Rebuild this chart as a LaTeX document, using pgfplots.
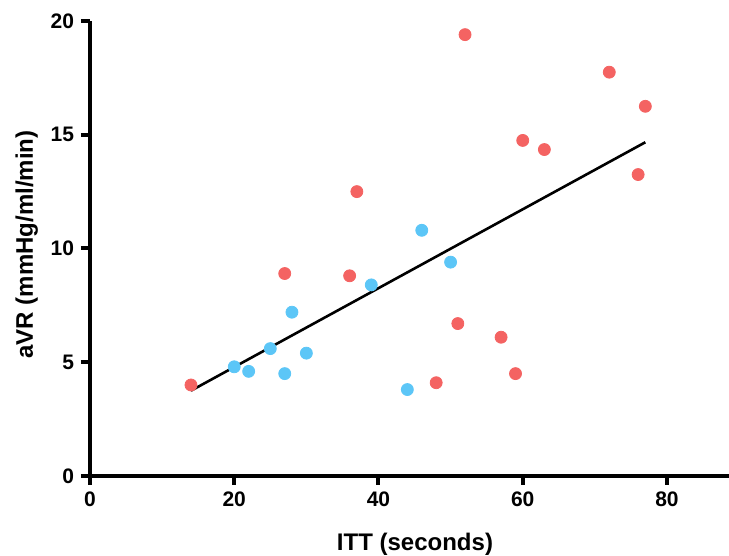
\documentclass[border=0pt]{standalone}
\usepackage{fontspec}
\setmainfont{Liberation Sans}
\usepackage{pgfplots}
\pgfplotsset{compat=1.18}
\definecolor{ptred}{RGB}{244,99,98}
\definecolor{ptblue}{RGB}{92,198,247}
\begin{document}
\begin{tikzpicture}
\path[use as bounding box] (-45pt,-40pt) rectangle (319.5pt,238pt);
\begin{axis}[
  at={(0pt,0pt)}, anchor=south west,
  scale only axis, width=319.5pt, height=227.5pt,
  xmin=0, xmax=88.6, ymin=0, ymax=20,
  axis x line*=bottom, axis y line*=left,
  x axis line style={-}, y axis line style={-},
  axis line style={line width=2pt, black},
  major tick style={line width=2pt, black},
  major tick length=4.5pt, tick align=outside,
  xtick={0,20,40,60,80}, ytick={0,5,10,15,20},
  tick label style={font=\fontsize{10.5}{12}\selectfont\bfseries},
  /pgf/number format/assume math mode=true,
  clip=false,
  xlabel={ITT (seconds)},
  ylabel={aVR (mmHg/ml/min)},
  xlabel style={font=\fontsize{12}{14}\selectfont\bfseries, at={(axis description cs:0.5086,0)}, anchor=base, yshift=-37.5pt},
  ylabel style={font=\fontsize{12}{14}\selectfont\bfseries, at={(axis description cs:0,0.509)}, anchor=base, yshift=28.5pt},
]
\addplot[only marks, mark=*, color=ptred, mark size=3pt] coordinates {
(14,4.0) (27,8.9) (36,8.8) (37,12.5) (48,4.1) (51,6.7) (52,19.4) (57,6.1)
(59,4.5) (60,14.75) (63,14.35) (72,17.75) (76,13.25) (77,16.25)
};
\addplot[only marks, mark=*, color=ptblue, mark size=3pt] coordinates {
(20,4.8) (22,4.6) (25,5.6) (27,4.5) (28,7.2) (30,5.4) (39,8.4) (44,3.8) (46,10.8) (50,9.4)
};
\addplot[black, line width=1.3pt] coordinates {(14,3.75) (77,14.67)};
\end{axis}
\end{tikzpicture}
\end{document}
